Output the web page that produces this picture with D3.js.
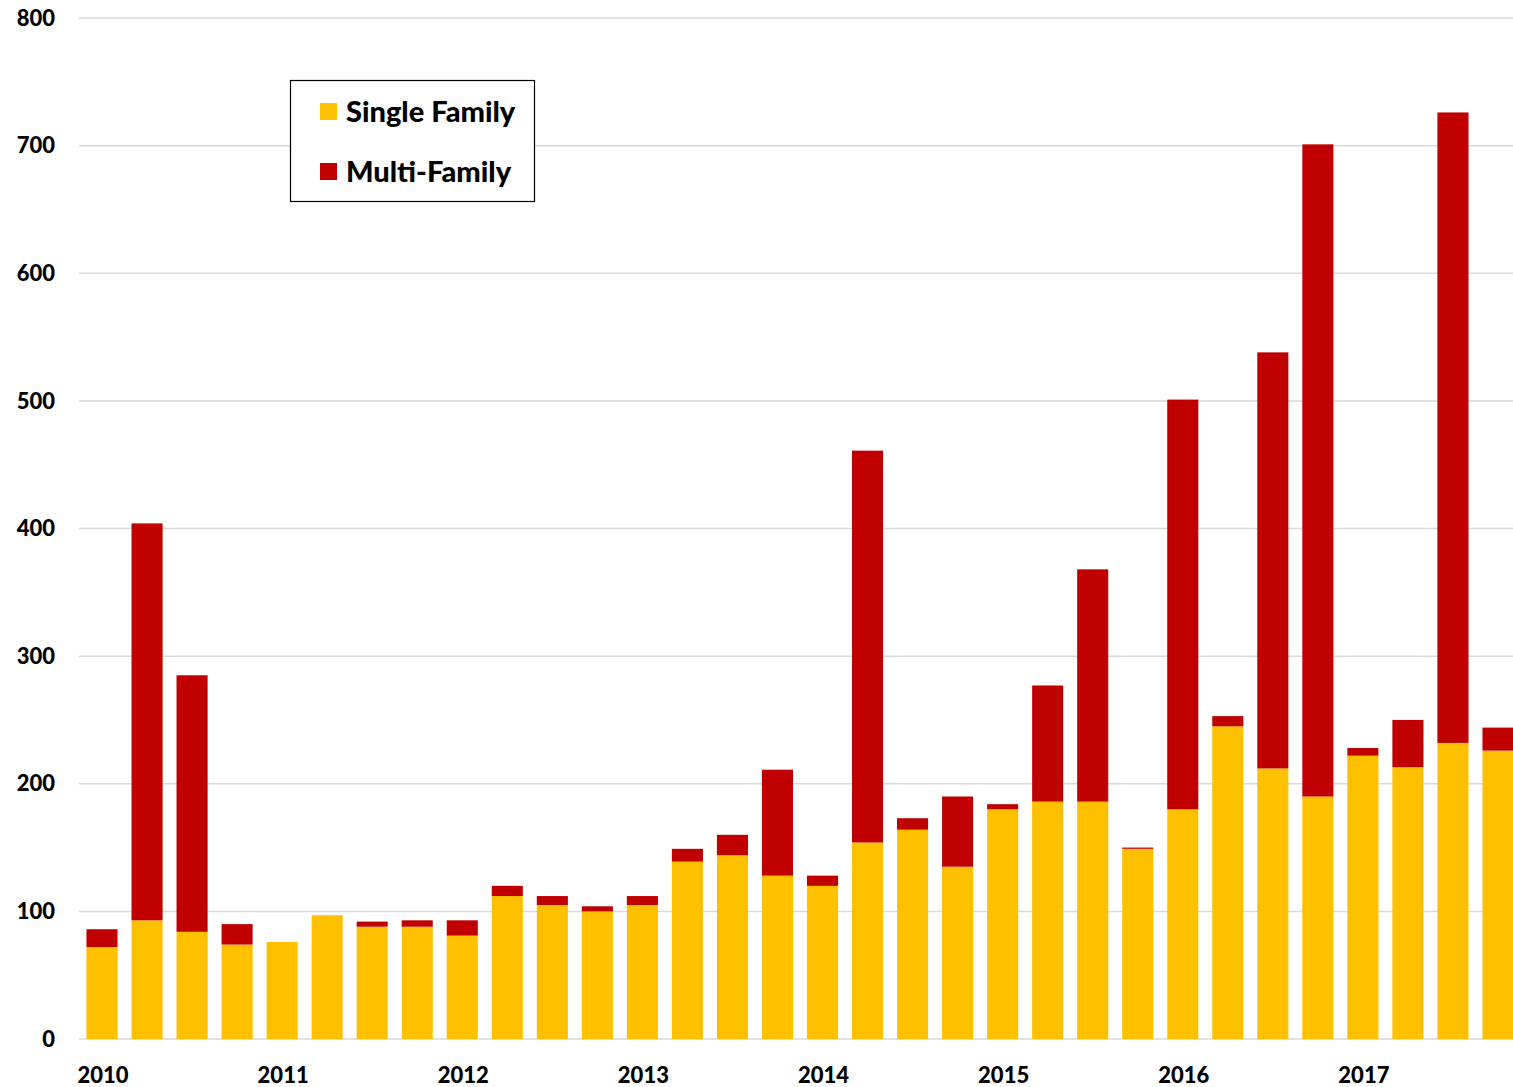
<!DOCTYPE html>
<html>
<head>
<meta charset="utf-8">
<script src="https://cdn.jsdelivr.net/npm/d3@7"></script>
<style>
  body { margin: 0; background: #fff; }
  svg { display: block; font-family: Lato, "Open Sans", sans-serif; font-weight: 900; }
</style>
</head>
<body>
<div id="chart"></div>
<script>
// quarters 2010 Q1 .. 2017 Q4
const quarters = d3.range(2010, 2018).flatMap(y => [1, 2, 3, 4].map(q => `${y}Q${q}`));
const singleFamily = [72, 93, 84, 74, 76, 97, 88, 88, 81, 112, 105, 100, 105, 139, 144, 128,
  120, 154, 164, 135, 180, 186, 186, 149, 180, 245, 212, 190, 222, 213, 232, 226];
const multiFamily = [14, 311, 201, 16, 0, 0, 4, 5, 12, 8, 7, 4, 7, 10, 16, 83,
  8, 307, 9, 55, 4, 91, 182, 1, 321, 8, 326, 511, 6, 37, 494, 18];
const yTicks = [0, 100, 200, 300, 400, 500, 600, 700, 800];
const yearLabels = ["2010", "2011", "2012", "2013", "2014", "2015", "2016", "2017"];
const seriesNames = ["Single Family", "Multi-Family"];
const colors = ["#FFC000", "#C00000"];

const width = 1513, height = 1087;
const svg = d3.select("#chart").append("svg")
  .attr("width", width)
  .attr("height", height);

const x = d3.scaleBand()
  .domain(quarters)
  .range([79.5, 1520.5])
  .paddingInner(0.31)
  .paddingOuter(0.155);

const y = d3.scaleLinear()
  .domain([0, 800])
  .range([1039, 18]);

// gridlines
svg.append("g")
  .selectAll("line")
  .data(yTicks)
  .join("line")
  .attr("x1", 79)
  .attr("x2", width)
  .attr("y1", d => y(d))
  .attr("y2", d => y(d))
  .attr("stroke", "#d9d9d9")
  .attr("stroke-width", 1.5);

// y labels
svg.append("g")
  .selectAll("text")
  .data(yTicks)
  .join("text")
  .attr("x", 55)
  .attr("y", d => y(d))
  .attr("dy", "0.35em")
  .attr("text-anchor", "end")
  .style("font-size", "22px")
  .text(d => d);

// stacked bars
const rows = quarters.map((q, i) => ({ q: q, sf: singleFamily[i], mf: multiFamily[i] }));
const stack = d3.stack().keys(["sf", "mf"])(rows);

svg.append("g")
  .selectAll("g")
  .data(stack)
  .join("g")
  .attr("fill", (d, i) => colors[i])
  .selectAll("rect")
  .data(d => d)
  .join("rect")
  .attr("x", d => x(d.data.q))
  .attr("width", x.bandwidth())
  .attr("y", d => y(d[1]))
  .attr("height", d => y(d[0]) - y(d[1]));

// year labels under the first quarter of each year
svg.append("g")
  .selectAll("text")
  .data(yearLabels)
  .join("text")
  .attr("x", d => x(d + "Q1") + x.bandwidth() / 2 + 1)
  .attr("y", 1083)
  .attr("text-anchor", "middle")
  .style("font-size", "22px")
  .text(d => d);

// legend
const legend = svg.append("g");
legend.append("rect")
  .attr("x", 290.5).attr("y", 80.5)
  .attr("width", 244).attr("height", 121)
  .attr("fill", "#fff")
  .attr("stroke", "#000")
  .attr("stroke-width", 1.2);

const item = legend.selectAll("g.item")
  .data(seriesNames)
  .join("g")
  .attr("class", "item")
  .attr("transform", (d, i) => `translate(320,${112 + i * 60})`);
item.append("rect")
  .attr("x", 0).attr("y", -9)
  .attr("width", 17).attr("height", 17)
  .attr("fill", (d, i) => colors[i]);
item.append("text")
  .attr("x", 26)
  .attr("y", 0)
  .attr("dy", "0.35em")
  .style("font-size", "29px")
  .text(d => d);
</script>
</body>
</html>
